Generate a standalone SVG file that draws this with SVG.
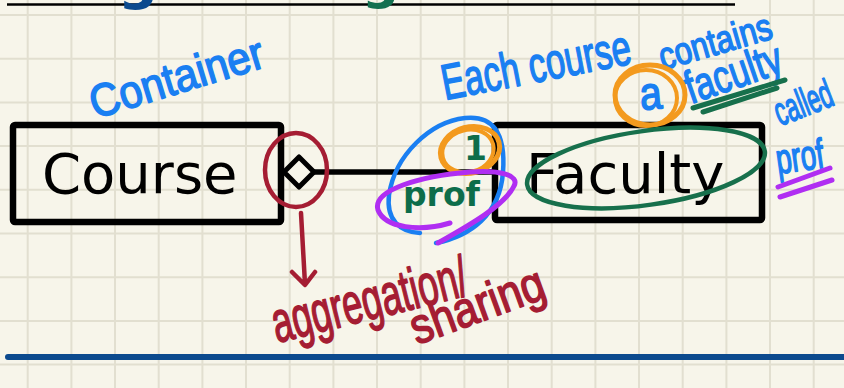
<svg xmlns="http://www.w3.org/2000/svg" width="844" height="388" viewBox="0 0 844 388">
<defs>
<style>
.grid{stroke:#e2dfd0;stroke-width:2;fill:none}
.box{fill:none;stroke:#000;stroke-width:6.5;stroke-linejoin:round}
.lbl{font-family:"DejaVu Sans",sans-serif;font-size:56px;fill:#000}
.role{font-family:"DejaVu Sans",sans-serif;font-weight:bold;fill:#0d6d4a}
.ink{fill:none;stroke-linecap:round;stroke-linejoin:round}
.hb{font-family:"Liberation Sans",sans-serif;fill:#1a7ff2;stroke:#1a7ff2;stroke-width:1.6;stroke-linejoin:round}
.hr{font-family:"Liberation Sans",sans-serif;fill:#a51d33;stroke:#a51d33;stroke-width:1.6;stroke-linejoin:round}
</style>
<marker id="diamond" viewBox="0 0 32 32" markerWidth="32" markerHeight="32" markerUnits="userSpaceOnUse" refX="31" refY="16" orient="auto" overflow="visible">
<path d="M1,16 L16,1 L31,16 L16,31 Z" fill="#f7f5ea" stroke="#000" stroke-width="5" stroke-linejoin="round"/>
</marker>
</defs>
<rect width="844" height="388" fill="#f7f5ea"/>
<path class="grid" d="M27.7,0V388M71.4,0V388M115,0V388M158.7,0V388M202.4,0V388M246,0V388M289.7,0V388M333.4,0V388M377,0V388M420.7,0V388M464.4,0V388M508,0V388M551.7,0V388M595.4,0V388M639,0V388M682.7,0V388M726.4,0V388M770,0V388M813.7,0V388M0,15H844M0,58.7H844M0,102.4H844M0,146.1H844M0,189.8H844M0,233.5H844M0,277.2H844M0,320.9H844M0,364.6H844"/>
<g id="header">
<path d="M7,4.5H735" stroke="#000" stroke-width="2.5" fill="none"/>
<text x="118" y="-2" font-family="DejaVu Sans,sans-serif" font-weight="bold" font-size="56" fill="#0b4a8e">g</text>
<text x="362" y="-2" font-family="DejaVu Sans,sans-serif" font-weight="bold" font-size="52" fill="#137050">g</text>
</g>
<g id="course">
<rect class="box" x="13" y="125" width="268" height="97" rx="2"/>
<text class="lbl" x="42" y="193">Course</text>
</g>
<g id="faculty">
<rect class="box" x="495" y="125" width="267" height="95" rx="2"/>
<text class="lbl" x="526" y="193">Faculty</text>
</g>
<g id="connectors">
<path d="M314,172 H495" stroke="#000" stroke-width="5.5" fill="none" marker-start="url(#diamond)"/>
<text class="role" x="487" y="160" font-size="33" text-anchor="end">1</text>
<text class="role" x="403" y="206" font-size="33">prof</text>
</g>
<g id="annotations">
<text class="hb" transform="translate(95,119) rotate(-17)" font-size="46" textLength="180" lengthAdjust="spacingAndGlyphs">Container</text>
<text class="hb" transform="translate(445,100) rotate(-11)" font-size="50" textLength="192" lengthAdjust="spacingAndGlyphs">Each course</text>
<text class="hb" transform="translate(663,70) rotate(-16)" font-size="38" textLength="116" lengthAdjust="spacingAndGlyphs">contains</text>
<text class="hb" transform="translate(641,110) rotate(-5)" font-size="46" textLength="22" lengthAdjust="spacingAndGlyphs">a</text>
<text class="hb" transform="translate(691,104) rotate(-19)" font-size="46" textLength="100" lengthAdjust="spacingAndGlyphs">faculty</text>
<text class="hb" transform="translate(780,126) rotate(-21)" font-size="40" textLength="60" lengthAdjust="spacingAndGlyphs">called</text>
<text class="hb" transform="translate(778,174) rotate(-8)" font-size="42" textLength="48" lengthAdjust="spacingAndGlyphs">prof</text>
<path class="ink" d="M693,108 L785,80 M703,112 L777,88" stroke="#17704c" stroke-width="5"/>
<path class="ink" d="M778,187 L830,168 M780,197 L832,180" stroke="#b02ef2" stroke-width="5"/>
<ellipse class="ink" cx="650" cy="95" rx="35" ry="30" stroke="#f39a1e" stroke-width="5"/>
<ellipse class="ink" cx="646" cy="98" rx="31" ry="28" stroke="#f39a1e" stroke-width="4"/>
<path class="ink" d="M436,243 C470,236 500,215 503,172 C506,132 492,115 465,118 C430,122 395,155 389,195 C386,220 400,232 420,233" stroke="#1a7ff2" stroke-width="4.5"/>
<ellipse class="ink" cx="470" cy="150" rx="30" ry="23" transform="rotate(-15 470 150)" stroke="#f39a1e" stroke-width="5"/>
<ellipse class="ink" cx="468" cy="151" rx="26" ry="21" transform="rotate(-15 468 151)" stroke="#f39a1e" stroke-width="4"/>
<path class="ink" d="M450,223 C420,232 385,228 378,210 C372,190 420,176 470,172 C500,170 520,175 514,186 C505,205 470,225 438,243" stroke="#b02ef2" stroke-width="5"/>
<ellipse class="ink" cx="646" cy="168" rx="120" ry="37" transform="rotate(-8 646 168)" stroke="#17704c" stroke-width="4.5"/>
<ellipse class="ink" cx="296" cy="170" rx="31" ry="37" stroke="#a51d33" stroke-width="4.5"/>
<path class="ink" d="M301,213 Q303,250 305,284 M292,272 L305,285 L315,272" stroke="#a51d33" stroke-width="4.5"/>
<text class="hr" transform="translate(277,343) rotate(-14)" font-size="58" textLength="200" lengthAdjust="spacingAndGlyphs">aggregation/</text>
<text class="hr" transform="translate(417,345) rotate(-20)" font-size="50" textLength="140" lengthAdjust="spacingAndGlyphs">sharing</text>
</g>
<path d="M8,357 H844" stroke="#0c4a8e" stroke-width="6" stroke-linecap="round" fill="none"/>
</svg>
